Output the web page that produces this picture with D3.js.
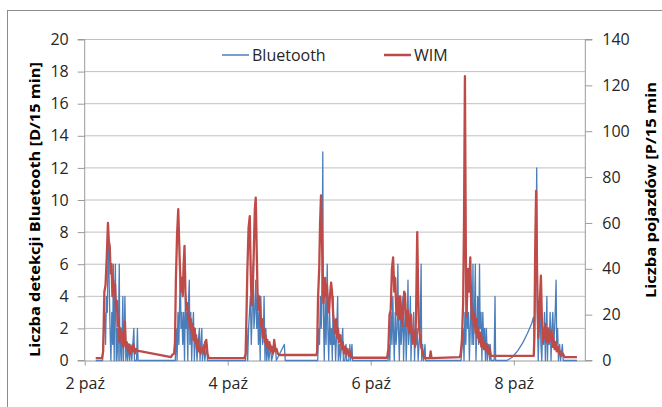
<!DOCTYPE html>
<html>
<head>
<meta charset="utf-8">
<script src="https://cdn.jsdelivr.net/npm/d3@7"></script>
<style>
  body { margin: 0; background: #fff; }
  svg { display: block; font-family: "Open Sans", Calibri, Lato, sans-serif; }
</style>
</head>
<body>
<div id="chart"></div>
<script>
// hours counted from 2 paź 00:00, values per 15 min
var bluetooth = [
  [3.7,0],[6.0,0],[6.4,2],[6.7,3],[7.0,1],[7.3,4],[7.6,3],[7.9,8],[8.2,5],[8.5,2],[8.8,0],[9.1,3],[9.4,1],[9.6,6],[9.9,0],
  [10.1,4],[10.3,6],[10.6,0],[10.9,2],[11.2,0],[11.6,6],[11.8,0],[12.1,2],[12.4,0],[12.8,4],[13.0,0],[13.3,2],[13.5,4],
  [13.8,0],[14.1,1],[14.4,0],[14.8,1],[15.1,0],[15.5,1],[15.8,0],[16.5,2],[16.7,0],[17.4,0],[17.7,2],[17.9,0],
  [30.4,0],[30.7,2],[31.0,0],[31.3,3],[31.6,1],[31.9,4],[32.1,6],[32.3,2],[32.6,3],[32.9,1],[33.2,3],[33.5,0],[33.8,4],
  [34.0,2],[34.3,3],[34.6,0],[34.9,4],[35.1,5],[35.3,1],[35.6,3],[35.9,0],[36.2,2],[36.5,3],[36.8,0],[37.1,2],[37.4,1],
  [37.7,0],[38.0,1],[38.5,2],[38.7,0],[39.0,1],[39.3,2],[39.5,0],[40.0,1],[40.3,0],[41.0,1],[41.2,0],
  [54.0,0],[54.4,2],[54.7,0],[55.0,2],[55.3,3],[55.6,4],[55.9,1],[56.2,3],[56.5,6],[56.8,2],[57.1,3],[57.4,5],[57.7,2],
  [58.0,4],[58.3,1],[58.6,3],[58.9,0],[59.1,4],[59.4,2],[59.7,1],[60.0,2],[60.2,4],[60.5,0],[60.8,2],[61.1,0],[61.5,1],
  [61.8,0],[62.4,1],[62.7,0],[64.0,1],[64.3,0],[67.0,1],[67.3,0],
  [78.2,0],[78.5,2],[78.8,1],[79.1,4],[79.4,2],[79.7,6],[79.9,13],[80.1,3],[80.4,0],[80.7,4],[81.0,1],[81.4,6],[81.6,2],
  [81.9,0],[82.2,3],[82.5,1],[82.8,2],[83.1,0],[83.4,4],[83.6,1],[83.9,2],[84.2,0],[84.6,2],[84.9,4],[85.1,0],[85.5,1],
  [85.8,0],[86.2,1],[86.6,2],[86.8,0],[87.3,0],[87.7,1],[87.9,0],[88.6,0],[89.0,1],[89.2,0],[89.7,1],[89.9,0],
  [101.8,0],[102.1,1],[102.4,0],[102.8,3],[103.1,1],[103.4,4],[103.6,2],[103.9,0],[104.2,3],[104.5,1],[104.8,2],[105.1,6],
  [105.3,2],[105.6,0],[105.9,3],[106.2,1],[106.5,2],[106.8,4],[107.0,0],[107.3,2],[107.6,3],[107.9,0],[108.2,2],[108.5,5],
  [108.7,1],[109.0,2],[109.3,4],[109.5,0],[109.8,2],[110.1,1],[110.4,3],[110.7,0],[111.0,2],[111.3,1],[111.6,2],[111.9,0],
  [112.2,1],[112.6,2],[112.9,6],[113.1,0],[113.4,1],[113.7,0],[114.2,1],[114.4,0],
  [126.3,0],[126.7,1],[127.0,2],[127.3,0],[127.6,3],[127.9,1],[128.2,4],[128.5,2],[128.8,3],[129.1,0],[129.4,2],[129.7,4],
  [130.0,1],[130.3,6],[130.5,1],[130.8,3],[131.1,6],[131.3,0],[131.6,2],[131.9,4],[132.2,1],[132.5,6],[132.7,2],[133.0,3],
  [133.3,0],[133.6,3],[133.9,1],[134.2,2],[134.5,0],[134.8,2],[135.1,0],[135.6,1],[135.9,0],[136.1,1],[136.4,0],[137.4,0],
  [137.7,4],[137.9,0],[141.7,0],[143.5,0.2],[145.3,0.6],[147.0,1.1],[148.6,1.7],[150.0,2.3],[150.6,2.7],
  [150.9,1],[151.2,4],[151.5,8],[151.7,12],[151.9,3],[152.2,0],[152.5,2],[152.8,4],[153.1,1],[153.4,0],[153.7,2],[154.0,1],
  [154.3,3],[154.6,0],[154.9,2],[155.1,4],[155.3,0],[155.6,2],[155.9,1],[156.2,3],[156.5,0],[156.8,2],[157.1,3],[157.4,1],
  [157.7,2],[157.9,3],[158.2,5],[158.4,1],[158.7,2],[159.0,0],[159.4,1],[159.7,0],[160.3,1],[160.6,0],[165.2,0]
];

var wim = [
  [3.7,1],[5.8,1],[6.2,4],[6.6,30],[7.0,33],[7.4,45],[7.8,60],[8.1,52],[8.4,50],[8.7,38],[9.0,42],[9.3,28],[9.6,35],
  [9.9,30],[10.2,33],[10.5,22],[10.8,26],[11.1,15],[11.4,18],[11.7,8],[12.0,14],[12.3,10],[12.6,12],[12.9,6],[13.2,9],
  [13.5,17],[13.8,6],[14.1,8],[14.5,4],[14.8,7],[15.2,3],[15.6,6],[16.0,4],[16.4,7],[16.8,3],[17.2,5],[17.6,4.3],
  [29.0,1.5],[29.4,2.5],[30.0,3],[30.3,8],
  [30.6,35],[31.0,55],[31.4,66],[31.7,52],[32.0,39],[32.3,30],[32.6,36],[32.9,28],[33.2,42],[33.5,50],[33.8,30],[34.1,22],
  [34.4,25],[34.7,18],[35.0,20],[35.3,14],[35.6,18],[35.9,12],[36.2,16],[36.5,9],[36.8,14],[37.1,8],[37.4,11],[37.7,5],
  [38.0,9],[38.3,4],[38.6,6],[38.9,3],[39.2,5],[39.5,4],[39.8,6],[40.1,3],[40.4,8],[40.8,9],[41.2,3],[41.6,1],
  [53.6,1],[54.0,3],[54.3,20],[54.6,40],[55.0,58],[55.4,63],[55.7,40],[56.0,24],[56.4,30],[56.8,50],[57.1,66],[57.4,71],
  [57.7,50],[58.0,30],[58.3,22],[58.6,28],[58.9,19],[59.2,15],[59.5,18],[59.8,10],[60.1,14],[60.4,8],[60.7,11],[61.0,6],
  [61.3,9],[61.6,5],[62.0,8],[62.4,4],[62.8,6],[63.2,3],[63.6,9],[64.0,4],[64.4,5],[64.8,3],[65.2,2.5],[65.6,2.4],[77.8,2.4],
  [78.0,4],[78.3,27],[78.7,40],[79.0,60],[79.3,72],[79.6,55],[79.9,35],[80.1,25],[80.4,30],[80.7,36],[81.0,28],[81.3,33],
  [81.7,22],[82.0,21],[82.3,28],[82.7,34],[83.0,30],[83.4,20],[83.7,16],[84.0,12],[84.4,18],[84.7,10],[85.0,14],[85.4,8],
  [85.8,11],[86.2,5],[86.6,8],[87.0,3],[87.4,6],[87.8,3],[88.2,5],[88.6,2],[89.0,4],[89.4,2],[89.8,1.2],[101.5,1.2],
  [101.9,5],[102.3,20],[102.7,22],[103.1,40],[103.5,45],[103.9,30],[104.2,36],[104.6,20],[104.9,25],[105.3,28],[105.6,18],
  [105.9,28],[106.3,20],[106.6,15],[106.9,22],[107.2,30],[107.5,29],[107.9,15],[108.2,18],[108.5,22],[108.9,12],[109.2,15],
  [109.5,20],[109.9,10],[110.2,8],[110.5,12],[110.9,6],[111.2,20],[111.6,56],[111.9,30],[112.2,14],[112.6,10],[112.9,6],
  [113.3,4],[113.7,2],[114.2,1],[115.8,1],[116.1,4],[116.4,1],[125.9,1.5],
  [126.2,3],[126.6,9],[127.0,25],[127.3,60],[127.6,124],[127.9,50],[128.1,19],[128.4,30],[128.7,40],[129.0,30],[129.4,45],
  [129.7,25],[130.0,18],[130.3,22],[130.6,15],[130.9,20],[131.2,12],[131.5,18],[131.8,10],[132.1,14],[132.4,8],[132.8,12],
  [133.1,6],[133.5,10],[133.9,5],[134.3,8],[134.7,4],[135.1,7],[135.5,3],[135.9,5],[136.3,2],[137.0,2],[150.7,2],
  [150.9,10],[151.2,50],[151.5,74],[151.8,40],[152.2,10],[152.6,20],[153.1,37],[153.4,20],[153.7,8],[154.0,14],[154.3,10],
  [154.6,16],[154.9,8],[155.2,12],[155.5,14],[155.8,8],[156.1,12],[156.4,9],[156.7,13],[157.0,6],[157.3,10],[157.7,5],
  [158.0,8],[158.4,4],[158.8,6],[159.2,3],[159.6,4],[160.0,2],[160.5,3],[161.0,1.5],[165.2,1.5]
];

var xTickDays = [2, 4, 6, 8];
var xTickLabels = ["2 paź", "4 paź", "6 paź", "8 paź"];
var leftTicks = [0, 2, 4, 6, 8, 10, 12, 14, 16, 18, 20];
var rightTicks = [0, 20, 40, 60, 80, 100, 120, 140];
var seriesNames = ["Bluetooth", "WIM"];
var seriesColors = ["#4a7ebb", "#be4b48"];

var W = 662, H = 407;
var plot = {left: 84.7, right: 585.3, top: 39.5, bottom: 360.5};
var font = '"Open Sans", Calibri, Lato, sans-serif';

var svg = d3.select("#chart").append("svg")
  .attr("width", W)
  .attr("height", H);

// chart frame (cut by the picture edge on the right and bottom)
svg.append("rect")
  .attr("x", 7.5).attr("y", 10.5)
  .attr("width", 700).attr("height", 500)
  .attr("fill", "none")
  .attr("stroke", "#8c8c8c");

var base = new Date(2015, 9, 2);
function toDate(h) { return new Date(base.getTime() + h * 3600e3); }

var x = d3.scaleTime()
  .domain([base, new Date(2015, 9, 9)])
  .range([plot.left, plot.right]);

var yL = d3.scaleLinear().domain([0, 20]).range([plot.bottom, plot.top]);
var yR = d3.scaleLinear().domain([0, 140]).range([plot.bottom, plot.top]);

// gridlines
svg.append("g")
  .selectAll("line")
  .data(leftTicks.slice(1))
  .enter().append("line")
    .attr("x1", plot.left).attr("x2", plot.right)
    .attr("y1", function(d) { return yL(d); })
    .attr("y2", function(d) { return yL(d); })
    .attr("stroke", "#c0c0c0")
    .attr("stroke-width", 1);

// axes
var axisLeft = svg.append("g")
  .attr("transform", "translate(" + plot.left + ",0)")
  .call(d3.axisLeft(yL).tickValues(leftTicks).tickSize(7).tickPadding(9));

var axisRight = svg.append("g")
  .attr("transform", "translate(" + plot.right + ",0)")
  .call(d3.axisRight(yR).tickValues(rightTicks).tickSize(7).tickPadding(10));

var axisBottom = svg.append("g")
  .attr("transform", "translate(0," + plot.bottom + ")")
  .call(d3.axisBottom(x)
    .tickValues(xTickDays.map(function(d) { return new Date(2015, 9, d); }))
    .tickFormat(function(d, i) { return xTickLabels[i]; })
    .tickSize(5).tickPadding(12).tickSizeOuter(0));

[axisLeft, axisRight, axisBottom].forEach(function(g) {
  g.selectAll(".domain").attr("stroke", "#9a9a9a");
  g.selectAll(".tick line").attr("stroke", "#9a9a9a");
  g.selectAll("text")
    .style("font-size", "16px")
    .style("font-family", font)
    .attr("fill", "#262626");
});
axisLeft.select(".domain").attr("d", "M-7," + plot.bottom + "H0V" + plot.top + "H-7");
axisRight.select(".domain").attr("d", "M7," + plot.bottom + "H0V" + plot.top + "H7");

// lines
var lineBt = d3.line()
  .x(function(d) { return x(toDate(d[0])); })
  .y(function(d) { return yL(d[1]); });

var lineWim = d3.line()
  .x(function(d) { return x(toDate(d[0])); })
  .y(function(d) { return yR(d[1]); });

svg.append("path")
  .datum(bluetooth)
  .attr("d", lineBt)
  .attr("fill", "none")
  .attr("stroke", seriesColors[0])
  .attr("stroke-width", 1.3)
  .attr("stroke-linejoin", "round");

svg.append("path")
  .datum(wim)
  .attr("d", lineWim)
  .attr("fill", "none")
  .attr("stroke", seriesColors[1])
  .attr("stroke-width", 2.3)
  .attr("stroke-linejoin", "round");

// legend
var legendX = [222, 384];
var legend = svg.append("g");
seriesNames.forEach(function(name, i) {
  legend.append("line")
    .attr("x1", legendX[i]).attr("x2", legendX[i] + 27)
    .attr("y1", 55).attr("y2", 55)
    .attr("stroke", seriesColors[i])
    .attr("stroke-width", i === 0 ? 1.5 : 2.5);
  legend.append("text")
    .attr("x", legendX[i] + 30)
    .attr("y", 60.5)
    .style("font-size", "16px")
    .attr("fill", "#262626")
    .text(name);
});

// axis titles
svg.append("text")
  .attr("transform", "translate(40,357) rotate(-90)")
  .attr("text-anchor", "start")
  .attr("textLength", 295)
  .attr("lengthAdjust", "spacingAndGlyphs")
  .style("font-size", "15px")
  .style("font-weight", "bold")
  .attr("fill", "#000")
  .text("Liczba detekcji Bluetooth [D/15 min]");

svg.append("text")
  .attr("transform", "translate(656,298) rotate(-90)")
  .attr("text-anchor", "start")
  .attr("textLength", 216)
  .attr("lengthAdjust", "spacingAndGlyphs")
  .style("font-size", "15px")
  .style("font-weight", "bold")
  .attr("fill", "#000")
  .text("Liczba pojazdów [P/15 min");
</script>
</body>
</html>
